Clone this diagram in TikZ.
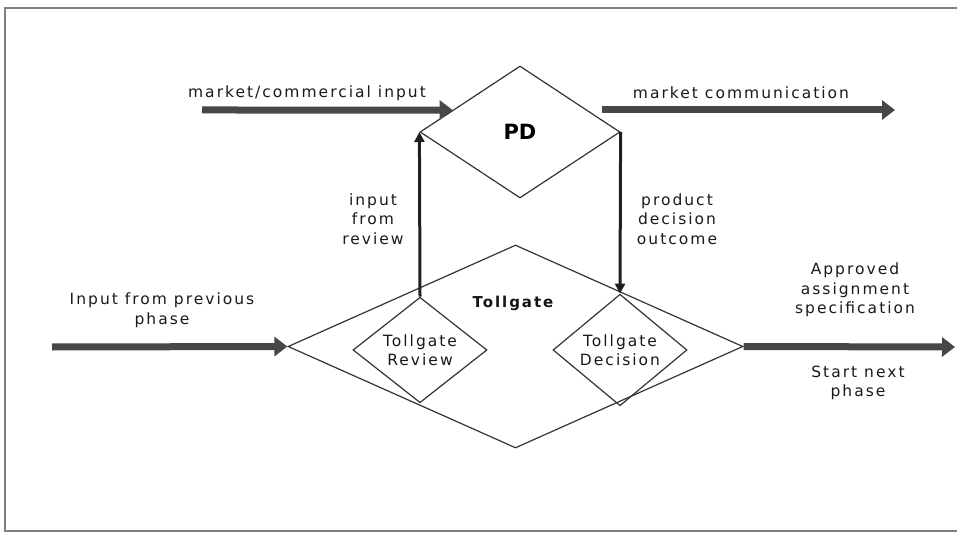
\documentclass[tikz,border=0pt]{standalone}
\usepackage{fontspec}
\setmainfont{DejaVu Sans}
\newfontfamily\labfont[LetterSpace=13]{DejaVu Sans}
\usetikzlibrary{shapes.geometric,arrows.meta,calc}

\begin{document}
\begin{tikzpicture}[x=1pt,y=-1pt,
  lab/.style={font=\labfont\fontsize{15.5}{19.5}\selectfont, align=center, inner sep=0pt, text=black!90},
  boldlab/.style={font=\labfont\bfseries\fontsize{15}{19.5}\selectfont, inner sep=0pt, text=black!92},
  gate/.style={draw=black!80, line width=1.2pt, shape=diamond, inner sep=0pt},
  flow/.style={draw=black!72, line width=7pt, -{Triangle[length=13pt,width=19pt]}},
  link/.style={draw=black!88, line width=3pt, -{Triangle[length=10pt,width=10pt]}},
]
\useasboundingbox (0,0) rectangle (957,534);

% outer frame (open on the right)
\draw[black!50, line width=2.5pt] (957,8) -- (5,8) -- (5,531) -- (957,531);

% diamonds
\node[gate, minimum width=455pt, minimum height=203pt] (TG) at (515.5,346.5) {};
\node[gate, minimum width=200pt, minimum height=132pt,
      font=\bfseries\fontsize{21}{25}\selectfont] (PD) at (520,132) {PD};
\node[gate, minimum width=134pt, minimum height=104pt, lab] (TR) at (420,350) {Tollgate\\Review};
\node[gate, minimum width=134pt, minimum height=104pt, lab] (TD) at (620,350) {Tollgate\\Decision};

% free ends of the main flows
\coordinate (mciStart) at (202,110);
\coordinate (mciEnd) at ($(PD.west)!0.33!(PD.north)$);
\coordinate (mcStart) at (602,110);
\coordinate (mcEnd) at (895,110);
\coordinate (inStart) at (52,347);
\coordinate (outEnd) at (955,347);

% thick flow arrows
\draw[flow] (mciStart) -- (mciEnd);
\draw[flow] (mcStart) -- (mcEnd);
\draw[flow] (inStart) -- (TG.west);
\draw[flow] (TG.east) -- (outEnd);

% links between review/decision and PD
\draw[link] (TR.north) -- (PD.west);
\draw[link] (PD.east) -- (TD.north);

% labels
\node[lab] (mciLab) at (307,93) {market/commercial input};
\node[lab] (mcLab) at (741,93) {market communication};
\node[lab] (revLab) at (373,219) {input\\from\\review};
\node[lab] (pdoLab) at (677,219) {product\\decision\\outcome};
\node[boldlab] (tgLab) at (513,303) {Tollgate};
\node[lab] (prevLab) at (162,310) {Input from previous\\phase};
\node[lab] (appLab) at (855,290) {Approved\\assignment\\specification};
\node[lab] (nextLab) at (858,383) {Start next\\phase};
\end{tikzpicture}
\end{document}
